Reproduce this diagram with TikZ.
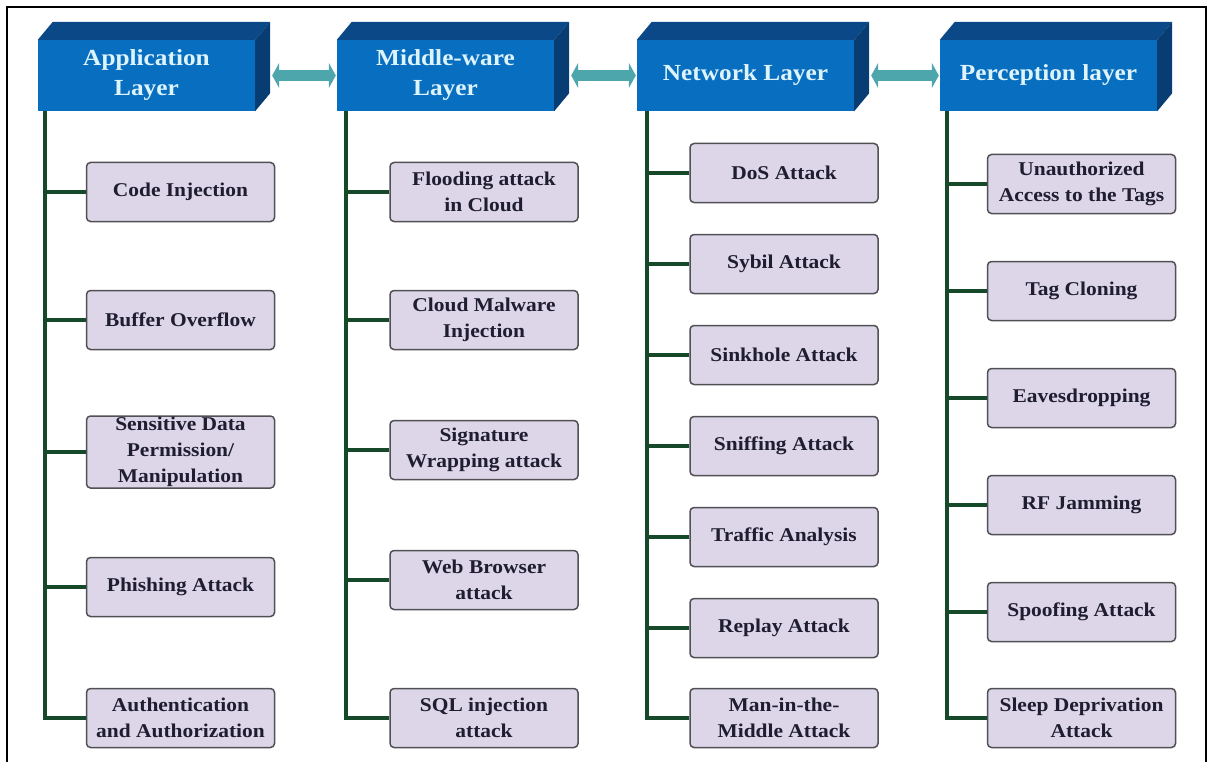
\documentclass[tikz,border=0pt]{standalone}
\usepackage{fontspec}
\setmainfont{Liberation Serif}[FakeStretch=1.1]
\usetikzlibrary{arrows.meta}

\definecolor{layerblue}{RGB}{8,110,192}
\definecolor{layerdark}{RGB}{10,72,135}
\definecolor{layertext}{RGB}{222,244,252}
\definecolor{attackfill}{RGB}{221,213,232}
\definecolor{attackline}{RGB}{80,80,85}
\definecolor{attacktext}{RGB}{30,30,48}
\definecolor{trunkgreen}{RGB}{22,72,42}
\definecolor{linkteal}{RGB}{76,166,172}

\tikzset{
	layer/.style={fill=layerblue, text=layertext, minimum width=217pt, minimum height=71pt, inner sep=0pt, align=center, font=\fontsize{23}{30}\selectfont\bfseries},
	attack/.style={rounded corners=4pt, fill=attackfill, draw=attackline, line width=1.5pt, minimum width=188pt, minimum height=59pt, inner sep=1pt, align=center, text=attacktext, font=\fontsize{19.5}{26}\selectfont\bfseries},
	trunk/.style={trunkgreen, line width=4.5pt},
	link/.style={linkteal, line width=11pt, {Triangle[length=7pt,width=25pt]}-{Triangle[length=7pt,width=25pt]}},
}

% top and side face of a layer block
\newcommand{\layerdepth}[1]{%
	\fill[layerdark] (#1.north west) -- ++(15,-18) -- ([shift={(15,-18)}]#1.north east) -- (#1.north east) -- cycle;
	\fill[layerdark!85!black] (#1.north east) -- ++(15,-18) -- ([shift={(15,-18)}]#1.south east) -- (#1.south east) -- cycle;}

\begin{document}
\begin{tikzpicture}[x=1pt,y=-1pt]
	\useasboundingbox (0,0) rectangle (1209,762);
	\draw[line width=1.5pt] (7,762) -- (7,7) -- (1206,7) -- (1206,762);

	% layers
	\node[layer] (app) at (146.5,75.5) {Application\\Layer};
	\node[layer] (mw) at (445.5,75.5) {Middle-ware\\Layer};
	\node[layer] (net) at (745.5,75.5) {Network Layer};
	\node[layer] (per) at (1048.5,75.5) {Perception layer};
	\layerdepth{app}
	\layerdepth{mw}
	\layerdepth{net}
	\layerdepth{per}

	\draw[link] ([xshift=17pt]app.east) -- ([xshift=-1pt]mw.west);
	\draw[link] ([xshift=17pt]mw.east) -- ([xshift=-1pt]net.west);
	\draw[link] ([xshift=17pt]net.east) -- ([xshift=-1pt]per.west);

	% application layer attacks
	\node[attack] (app1) at (180.5,192) {Code Injection};
	\node[attack] (app2) at (180.5,320) {Buffer Overflow};
	\node[attack, minimum height=72pt] (app3) at (180.5,452) {Sensitive Data\\Permission/\\Manipulation};
	\node[attack] (app4) at (180.5,587) {Phishing Attack};
	\node[attack] (app5) at (180.5,718) {Authentication\\and Authorization};

	% middle-ware layer attacks
	\node[attack] (mw1) at (484,192) {Flooding attack\\in Cloud};
	\node[attack] (mw2) at (484,320) {Cloud Malware\\Injection};
	\node[attack] (mw3) at (484,450) {Signature\\Wrapping attack};
	\node[attack] (mw4) at (484,580) {Web Browser\\attack};
	\node[attack] (mw5) at (484,718) {SQL injection\\attack};

	% network layer attacks
	\node[attack] (net1) at (784,173) {DoS Attack};
	\node[attack] (net2) at (784,264) {Sybil Attack};
	\node[attack] (net3) at (784,355) {Sinkhole Attack};
	\node[attack] (net4) at (784,446) {Sniffing Attack};
	\node[attack] (net5) at (784,537) {Traffic Analysis};
	\node[attack] (net6) at (784,628) {Replay Attack};
	\node[attack] (net7) at (784,718) {Man-in-the-\\Middle Attack};

	% perception layer attacks
	\node[attack] (per1) at (1081.5,184) {Unauthorized\\Access to the Tags};
	\node[attack] (per2) at (1081.5,291) {Tag Cloning};
	\node[attack] (per3) at (1081.5,398) {Eavesdropping};
	\node[attack] (per4) at (1081.5,505) {RF Jamming};
	\node[attack] (per5) at (1081.5,612) {Spoofing Attack};
	\node[attack] (per6) at (1081.5,718) {Sleep Deprivation\\Attack};

	% trunks and branches
	\coordinate (appT) at ([xshift=7pt]app.south west);
	\coordinate (mwT) at ([xshift=9pt]mw.south west);
	\coordinate (netT) at ([xshift=10pt]net.south west);
	\coordinate (perT) at ([xshift=7pt]per.south west);

	\draw[trunk] (appT) |- (app5.west);
	\draw[trunk] (app1.west) -- (app1.west -| appT);
	\draw[trunk] (app2.west) -- (app2.west -| appT);
	\draw[trunk] (app3.west) -- (app3.west -| appT);
	\draw[trunk] (app4.west) -- (app4.west -| appT);

	\draw[trunk] (mwT) |- (mw5.west);
	\draw[trunk] (mw1.west) -- (mw1.west -| mwT);
	\draw[trunk] (mw2.west) -- (mw2.west -| mwT);
	\draw[trunk] (mw3.west) -- (mw3.west -| mwT);
	\draw[trunk] (mw4.west) -- (mw4.west -| mwT);

	\draw[trunk] (netT) |- (net7.west);
	\draw[trunk] (net1.west) -- (net1.west -| netT);
	\draw[trunk] (net2.west) -- (net2.west -| netT);
	\draw[trunk] (net3.west) -- (net3.west -| netT);
	\draw[trunk] (net4.west) -- (net4.west -| netT);
	\draw[trunk] (net5.west) -- (net5.west -| netT);
	\draw[trunk] (net6.west) -- (net6.west -| netT);

	\draw[trunk] (perT) |- (per6.west);
	\draw[trunk] (per1.west) -- (per1.west -| perT);
	\draw[trunk] (per2.west) -- (per2.west -| perT);
	\draw[trunk] (per3.west) -- (per3.west -| perT);
	\draw[trunk] (per4.west) -- (per4.west -| perT);
	\draw[trunk] (per5.west) -- (per5.west -| perT);
\end{tikzpicture}
\end{document}
